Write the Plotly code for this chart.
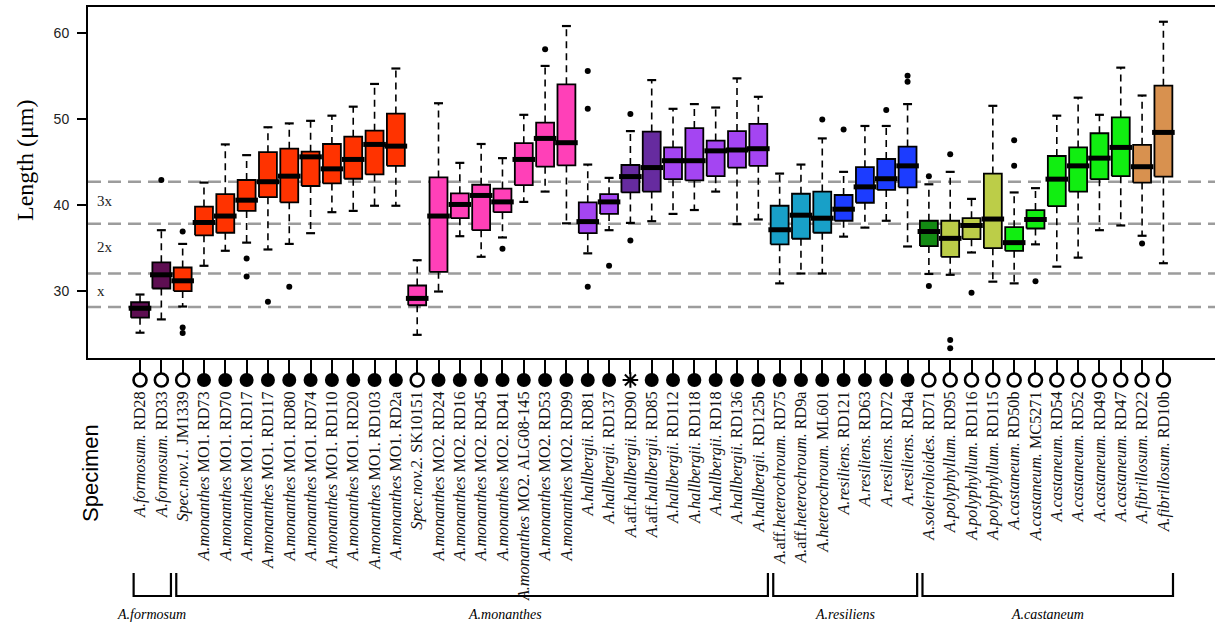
import plotly.graph_objects as go

# ---------------- data ----------------
species = (["A.formosum."] * 2 + ["Spec.nov.1."] + ["A.monanthes"] * 10 + ["Spec.nov.2."]
           + ["A.monanthes"] * 7 + ["A.hallbergii."] * 2 + ["A.aff.hallbergii."] * 2
           + ["A.hallbergii."] * 5 + ["A.aff.heterochroum."] * 2 + ["A.heterochroum."]
           + ["A.resiliens."] * 4 + ["A.soleirolioides."] + ["A.polyphyllum."] * 3
           + ["A.castaneum."] * 6 + ["A.fibrillosum."] * 2)
specimen_ids = ["RD28", "RD33", "JM1339",
                "MO1. RD73", "MO1. RD70", "MO1. RD17", "MO1. RD117", "MO1. RD80", "MO1. RD74",
                "MO1. RD110", "MO1. RD20", "MO1. RD103", "MO1. RD2a",
                "SK10151",
                "MO2. RD24", "MO2. RD16", "MO2. RD45", "MO2. RD41", "MO2. ALG08-145", "MO2. RD53", "MO2. RD99",
                "RD81", "RD137", "RD90", "RD85", "RD112", "RD118", "RD18", "RD136", "RD125b",
                "RD75", "RD9a", "ML601",
                "RD121", "RD63", "RD72", "RD4a",
                "RD71", "RD95", "RD116", "RD115",
                "RD50b", "MC5271", "RD54", "RD52", "RD49", "RD47",
                "RD22", "RD10b"]

lower_whisker = [25.1, 26.65, 28.15, 32.9, 34.65, 35.6, 34.8, 35.45, 36.7, 39.15, 39.3, 39.9, 39.9,
                 24.85, 29.9, 36.35, 33.95, 36.2, 40.35, 41.55, 37.85,
                 34.35, 37.05, 37.9, 38.1, 38.95, 39.4, 41.55, 37.75, 38.3,
                 30.85, 32.0, 32.0, 36.3, 37.35, 38.15, 35.15,
                 31.95, 31.85, 34.45, 31.05, 30.85, 35.4, 32.8, 33.85, 37.05, 37.6, 36.4, 33.2]
q1 = [26.85, 30.25, 29.95, 36.45, 36.75, 39.3, 40.9, 40.3, 42.2, 42.5, 43.05, 43.55, 44.55,
      28.3, 32.2, 38.45, 37.05, 39.15, 42.3, 44.45, 44.6,
      36.7, 38.95, 41.45, 41.55, 43.0, 42.85, 43.35, 44.35, 44.55,
      35.4, 36.05, 36.75, 38.15, 40.25, 41.75, 42.05,
      35.2, 33.95, 36.0, 34.95, 34.65, 37.25, 39.85, 41.55, 43.0, 43.35, 42.6, 43.3]
median = [27.95, 31.85, 31.15, 37.95, 38.7, 40.55, 42.7, 43.35, 45.6, 44.2, 45.3, 47.05, 46.85,
          29.1, 38.7, 40.05, 41.1, 40.35, 45.3, 47.75, 47.25,
          38.05, 40.35, 43.3, 44.35, 45.15, 45.15, 46.3, 46.4, 46.55,
          37.1, 38.8, 38.45, 39.5, 42.1, 43.05, 44.55,
          36.9, 36.1, 37.6, 38.35, 35.6, 38.3, 43.0, 44.55, 45.45, 46.7, 44.45, 48.45]
q3 = [28.65, 33.3, 32.7, 39.8, 41.25, 42.9, 46.15, 46.55, 46.2, 47.1, 47.95, 48.65, 50.65,
      30.6, 43.2, 41.35, 42.35, 41.9, 47.2, 49.6, 54.05,
      40.3, 41.25, 44.65, 48.55, 46.7, 48.95, 47.5, 48.6, 49.45,
      39.9, 41.3, 41.55, 41.15, 44.4, 45.35, 46.8,
      38.15, 38.15, 38.45, 43.65, 37.4, 39.4, 45.7, 46.7, 48.35, 50.2, 47.0, 53.9]
upper_whisker = [29.55, 37.05, 35.45, 42.6, 47.05, 45.8, 49.05, 49.5, 49.8, 50.4, 51.45, 54.1, 55.9,
                 33.55, 51.85, 44.9, 47.1, 45.45, 50.5, 56.2, 60.85,
                 44.7, 43.15, 48.6, 54.55, 51.2, 51.75, 51.35, 54.75, 52.6,
                 43.65, 44.7, 47.75, 43.85, 49.2, 49.2, 51.75,
                 42.4, 43.85, 40.7, 51.55, 41.45, 41.95, 50.4, 52.5, 50.5, 56.0, 52.75, 61.35]
# outliers keyed by specimen position (1-based)
outliers = {2: [42.9], 3: [36.9, 25.7, 25.05], 6: [33.75, 31.65], 7: [28.7], 8: [30.45],
            18: [34.9], 20: [58.15], 22: [55.6, 51.2, 30.45], 23: [32.9], 24: [50.6, 35.85],
            33: [49.95], 34: [48.8], 36: [51.05], 37: [55.05, 54.35], 38: [43.35, 30.55],
            39: [45.9, 24.25, 23.3], 40: [29.75], 42: [47.55, 44.55], 43: [31.1], 48: [35.5]}
# o = open circle, f = filled circle, s = asterisk
status = (["o"] * 3 + ["f"] * 10 + ["o"] + ["f"] * 9 + ["s"] + ["f"] * 13 + ["o"] * 12)

groups = ["A.formosum", "A.monanthes", "A.resiliens", "A.castaneum"]
group_first = [1, 3, 31, 38]
group_last = [2, 30, 37, 49]
group_label_x = [1.55, 18.1, 34.1, 43.55]

ploidy_lines = [28.1, 32.0, 37.8, 42.7]
ploidy_labels = ["x", "2x", "3x"]
ploidy_label_y = [30.0, 35.05, 40.4]

# ---------------- styles ----------------
palette = {"dpurple": "#5E0E52", "red": "#FF3300", "pink": "#FF40B8", "purple": "#A445F2",
           "dviolet": "#662B9F", "teal": "#18A0C8", "blue": "#1C3CFF", "dgreen": "#138A13",
           "ygreen": "#BCCD48", "green": "#11EE11", "tan": "#D8914F"}
color_keys = (["dpurple"] * 2 + ["red"] * 11 + ["pink"] * 8 + ["purple"] * 2 + ["dviolet"] * 2
              + ["purple"] * 5 + ["teal"] * 3 + ["blue"] * 4 + ["dgreen"] + ["ygreen"] * 3
              + ["green"] * 6 + ["tan"] * 2)

W, H = 1215, 623
ML, MR, MT, MB = 88, 0, 7, 30
AREA_W = W - ML - MR
AREA_H = H - MT - MB
AXIS_BOTTOM_PX = 358          # pixel row of the box-plot x axis
MARK_ROW_PX = (370, 390)      # pixel band holding the specimen symbols
YR = [22.15, 63.07]
XR = [-1.44, 51.42]

BOX_HW = 0.42
MED_HW = 0.53
CAP_HW = 0.21

n = len(specimen_ids)
xs = list(range(1, n + 1))


def paper_y(py):
    return (H - MB - py) / AREA_H


def paper_x(px):
    return (px - ML) / AREA_W


def label_html(sp, sid):
    if "aff." in sp:
        rest = sp.split("aff.")[1]
        return f"<i>A.</i>aff.<i>{rest}</i> {sid}"
    return f"<i>{sp}</i> {sid}"


ticktext = [label_html(s, i) for s, i in zip(species, specimen_ids)]

fig = go.Figure()

# whiskers (dashed) and caps
wx, wy, cx, cy = [], [], [], []
for x, lo, a, b, hi in zip(xs, lower_whisker, q1, q3, upper_whisker):
    wx += [x, x, None, x, x, None]
    wy += [b, hi, None, a, lo, None]
    cx += [x - CAP_HW, x + CAP_HW, None, x - CAP_HW, x + CAP_HW, None]
    cy += [hi, hi, None, lo, lo, None]
fig.add_trace(go.Scatter(x=wx, y=wy, mode="lines", hoverinfo="skip",
                         line=dict(color="black", width=1.6, dash="7px,5px")))
fig.add_trace(go.Scatter(x=cx, y=cy, mode="lines", hoverinfo="skip",
                         line=dict(color="black", width=2.2)))

# boxes
for x, a, b, ck, sid in zip(xs, q1, q3, color_keys, specimen_ids):
    fig.add_trace(go.Scatter(
        x=[x - BOX_HW, x + BOX_HW, x + BOX_HW, x - BOX_HW, x - BOX_HW],
        y=[a, a, b, b, a], mode="lines", fill="toself", fillcolor=palette[ck],
        line=dict(color="black", width=1.8), name=sid, hoverinfo="name"))

# medians
mx, my = [], []
for x, m in zip(xs, median):
    mx += [x - MED_HW, x + MED_HW, None]
    my += [m, m, None]
fig.add_trace(go.Scatter(x=mx, y=my, mode="lines", hoverinfo="skip",
                         line=dict(color="black", width=5)))

# outliers
ox, oy = [], []
for k, vals in outliers.items():
    for v in vals:
        ox.append(k)
        oy.append(v)
fig.add_trace(go.Scatter(x=ox, y=oy, mode="markers",
                         marker=dict(symbol="circle", size=6, color="black")))

# specimen status symbols (row under the axis, own y axis)
sym = {"o": ("circle-open", 13, 2.6), "f": ("circle", 14, 0), "s": ("asterisk-open", 13, 2)}
for key in ["o", "f", "s"]:
    xx = [x for x, s in zip(xs, status) if s == key]
    s, size, lw = sym[key]
    fig.add_trace(go.Scatter(x=xx, y=[0.5] * len(xx), mode="markers", xaxis="x2", yaxis="y2",
                             hoverinfo="skip",
                             marker=dict(symbol=s, size=size, color="black",
                                         line=dict(color="black", width=lw))))

# ploidy reference lines
for v in ploidy_lines:
    fig.add_shape(type="line", xref="paper", x0=0, x1=1, yref="y", y0=v, y1=v,
                  line=dict(color="#9C9C9C", width=2.5, dash="13px,7px"), layer="below")
for t, v in zip(ploidy_labels, ploidy_label_y):
    fig.add_annotation(x=XR[0] + (95 - ML) * (XR[1] - XR[0]) / AREA_W, y=v, xref="x", yref="y",
                       text=t, showarrow=False, xanchor="left", yanchor="middle",
                       font=dict(family="Liberation Serif", size=15, color="#222"))

# group brackets
by0, by1 = paper_y(573), paper_y(596)
for g, a, b, lx in zip(groups, group_first, group_last, group_label_x):
    x0, x1 = a - 0.3, b + 0.45
    fig.add_shape(type="path", xref="x", yref="paper",
                  path=f"M {x0},{by0} L {x0},{by1} L {x1},{by1} L {x1},{by0}",
                  line=dict(color="black", width=2.2))
    fig.add_annotation(x=lx, y=paper_y(614), xref="x", yref="paper", text=f"<i>{g}</i>",
                       showarrow=False, xanchor="center", yanchor="middle",
                       font=dict(family="Liberation Serif", size=14, color="black"))

# axis titles
fig.add_annotation(x=paper_x(25), y=paper_y(160), xref="paper", yref="paper", text="Length (μm)",
                   showarrow=False, textangle=-90, xanchor="center", yanchor="middle",
                   font=dict(family="Liberation Serif", size=24, color="black"))
fig.add_annotation(x=paper_x(90), y=paper_y(473), xref="paper", yref="paper", text="Specimen",
                   showarrow=False, textangle=-90, xanchor="center", yanchor="middle",
                   font=dict(family="Liberation Sans", size=22, color="black"))

fig.update_layout(
    width=W, height=H, margin=dict(l=ML, r=MR, t=MT, b=MB, pad=0, autoexpand=False),
    paper_bgcolor="white", plot_bgcolor="white", showlegend=False,
    xaxis=dict(range=XR, tickmode="array", tickvals=xs, ticktext=ticktext, tickangle=-90,
               ticks="outside", ticklen=14, tickwidth=1.5, tickcolor="black",
               showline=True, linewidth=2, linecolor="black", mirror=True, automargin=False,
               showgrid=False, zeroline=False, ticklabelstandoff=11,
               tickfont=dict(family="Liberation Serif", size=16.2, color="#111")),
    yaxis=dict(range=YR, domain=[paper_y(AXIS_BOTTOM_PX), 1], automargin=False,
               tickvals=[30, 40, 50, 60], ticks="outside", ticklen=9, tickwidth=1.5,
               tickcolor="black", showline=True, linewidth=2, linecolor="black", mirror=True,
               showgrid=False, zeroline=False, ticklabelstandoff=5,
               tickfont=dict(family="Liberation Sans", size=14, color="#222")),
    xaxis2=dict(matches="x", anchor="y2", visible=False),
    yaxis2=dict(domain=[paper_y(MARK_ROW_PX[1]), paper_y(MARK_ROW_PX[0])], range=[0, 1],
                visible=False, fixedrange=True),
)

fig.write_html("out.html")
